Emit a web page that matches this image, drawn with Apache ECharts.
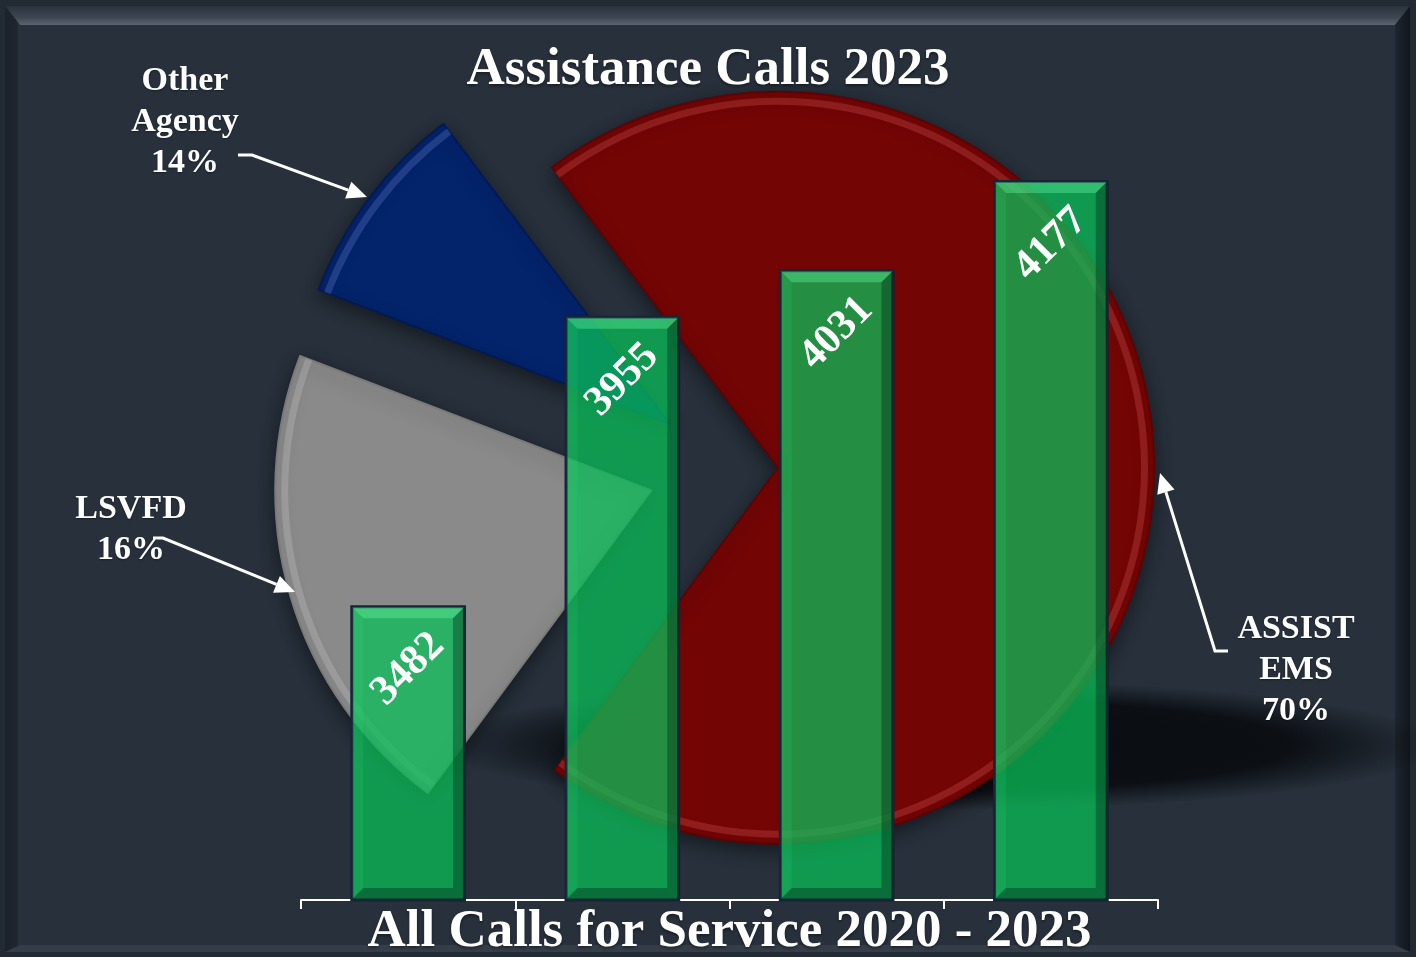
<!DOCTYPE html>
<html>
<head>
<meta charset="utf-8">
<title>Assistance Calls 2023</title>
<script src="https://cdn.jsdelivr.net/npm/echarts@6/dist/echarts.min.js"></script>
<style>
  html, body { margin: 0; padding: 0; background: #222a33; }
  #main { width: 1416px; height: 957px; }
</style>
</head>
<body>
<div id="main"></div>
<script>
// bars: all calls for service per year
var years = ['2020', '2021', '2022', '2023'];
var callTotals = [3482, 3955, 4031, 4177];

// pie: 2023 assistance calls (slice sizes as drawn, label text as printed)
var sliceNames = ['ASSIST EMS', 'LSVFD', 'Other Agency'];
var sliceValues = [70.4, 20.7, 8.9];
var sliceLabels = ['ASSIST\nEMS\n70%', 'LSVFD\n16%', 'Other\nAgency\n14%'];

var FONT = '"Liberation Serif", "DejaVu Serif", serif';
var sliceColors = ['#730505', '#8a8a8a', '#03236b'];
var sliceBorders = ['#5e0303', '#7a7a7a', '#021a55'];
var sliceShine = ['rgba(255,120,120,0.22)', 'rgba(255,255,255,0.16)', 'rgba(140,170,255,0.22)'];

// pie layout: common centre, each slice pushed out along its bisector
var pieCenter = [728, 468];
var pieRadius = 376;
var pieStart = 127;
var explode = [50, 80, 73];
var Y_MIN = 3000;

var total = sliceValues.reduce(function (s, v) { return s + v; }, 0);
var acc = 0;
var pieSeries = [];
sliceValues.forEach(function (v, i) {
  var mid = (pieStart - (acc + v / 2) / total * 360) * Math.PI / 180;
  acc += v;
  var cx = pieCenter[0] + explode[i] * Math.cos(mid);
  var cy = pieCenter[1] - explode[i] * Math.sin(mid);
  var common = {
    type: 'pie', silent: true, z: 2,
    center: [cx, cy], startAngle: pieStart, clockwise: true,
    label: { show: false }, labelLine: { show: false },
    emphasis: { disabled: true }
  };
  // the slice itself
  pieSeries.push(Object.assign({}, common, {
    name: sliceNames[i],
    radius: pieRadius,
    data: sliceValues.map(function (w, j) {
      return {
        name: sliceNames[j], value: w,
        itemStyle: j === i ? {
          color: sliceColors[j], borderColor: sliceBorders[j], borderWidth: 2,
          shadowBlur: 18, shadowColor: 'rgba(0,0,0,0.45)', shadowOffsetY: 6
        } : { color: 'rgba(0,0,0,0)', borderWidth: 0 }
      };
    })
  }));
  // bevel shine just inside the rim
  pieSeries.push(Object.assign({}, common, {
    name: sliceNames[i] + ' rim',
    radius: [pieRadius - 13, pieRadius - 6],
    data: sliceValues.map(function (w, j) {
      return { name: sliceNames[j], value: w,
        itemStyle: { color: j === i ? sliceShine[j] : 'rgba(0,0,0,0)', borderWidth: 0 } };
    })
  }));
});

// arrow annotation: polyline + head at the last point
function arrow(pts) {
  var a = pts[pts.length - 2], b = pts[pts.length - 1];
  var dx = b[0] - a[0], dy = b[1] - a[1], len = Math.sqrt(dx * dx + dy * dy);
  var ux = dx / len, uy = dy / len, L = 20, W = 9;
  var base = [b[0] - ux * L, b[1] - uy * L];
  return [
    { type: 'polyline', z: 20, shape: { points: pts.slice(0, -1).concat([base]) },
      style: { stroke: '#ffffff', lineWidth: 3, fill: null } },
    { type: 'polygon', z: 20,
      shape: { points: [b, [base[0] - uy * W, base[1] + ux * W], [base[0] + uy * W, base[1] - ux * W]] },
      style: { fill: '#ffffff' } }
  ];
}

function sliceText(text, x, y) {
  return {
    type: 'text', z: 20, x: x, y: y,
    style: {
      text: text, fill: '#ffffff', align: 'center', verticalAlign: 'middle',
      fontFamily: FONT, fontWeight: 'bold', fontSize: 34, lineHeight: 41,
      textShadowColor: 'rgba(0,0,0,0.4)', textShadowBlur: 2, textShadowOffsetY: 1
    }
  };
}

// bevelled frame
var frame = [
  { type: 'rect', z: 0, shape: { x: 20, y: 25, width: 1375, height: 920 }, style: { fill: '#27303b' } },
  { type: 'polygon', z: 0, shape: { points: [[5, 6], [1410, 6], [1395, 25], [20, 25]] },
    style: { fill: { type: 'linear', x: 0, y: 0, x2: 0, y2: 1, colorStops: [
      { offset: 0, color: '#2a323c' }, { offset: 0.6, color: '#3e4652' }, { offset: 1, color: '#5b6471' }] } } },
  { type: 'polygon', z: 0, shape: { points: [[5, 6], [20, 25], [20, 945], [5, 952]] },
    style: { fill: { type: 'linear', x: 0, y: 0, x2: 1, y2: 0, colorStops: [
      { offset: 0, color: '#1c222b' }, { offset: 0.75, color: '#1e252e' }, { offset: 1, color: '#2c343f' }] } } },
  { type: 'polygon', z: 0, shape: { points: [[1410, 6], [1410, 952], [1395, 945], [1395, 25]] },
    style: { fill: { type: 'linear', x: 0, y: 0, x2: 1, y2: 0, colorStops: [
      { offset: 0, color: '#1f262f' }, { offset: 1, color: '#12161c' }] } } },
  { type: 'polygon', z: 0, shape: { points: [[5, 952], [20, 945], [1395, 945], [1410, 952]] },
    style: { fill: '#353d48' } }
];

// squashed shadow cast by the pie
var pieShadow = {
  type: 'circle', z: 1, x: 940, y: 745, scaleX: 5.0, scaleY: 0.65,
  shape: { cx: 0, cy: 0, r: 100 },
  style: { fill: { type: 'radial', x: 0.5, y: 0.5, r: 0.5, colorStops: [
    { offset: 0, color: 'rgba(8,11,15,0.97)' },
    { offset: 0.7, color: 'rgba(8,11,15,0.88)' },
    { offset: 1, color: 'rgba(8,11,15,0)' }] } }
};

var BAR_WIDTH = 0.54;

// bevel faces drawn over each bar, placed through the axes
function barBevel(params, api) {
  var top = api.coord([api.value(0), api.value(1)]);
  var bottom = api.coord([api.value(0), Y_MIN]);
  var w = api.size([1, 0])[0] * BAR_WIDTH;
  var x0 = top[0] - w / 2 + 2, x1 = top[0] + w / 2 - 2, y0 = top[1] + 2, y1 = bottom[1] - 1;
  var b = 11;
  return {
    type: 'group',
    children: [
      { type: 'polygon', shape: { points: [[x0, y0], [x1, y0], [x1 - b, y0 + b], [x0 + b, y0 + b]] },
        style: { fill: 'rgba(110,255,170,0.35)' } },
      { type: 'polygon', shape: { points: [[x1, y0], [x1, y1], [x1 - b, y1 - b], [x1 - b, y0 + b]] },
        style: { fill: 'rgba(0,40,20,0.38)' } },
      { type: 'polygon', shape: { points: [[x0, y1], [x1, y1], [x1 - b, y1 - b], [x0 + b, y1 - b]] },
        style: { fill: 'rgba(0,45,25,0.4)' } },
      { type: 'polygon', shape: { points: [[x0, y0], [x0 + b, y0 + b], [x0 + b, y1 - b], [x0, y1]] },
        style: { fill: 'rgba(60,230,130,0.12)' } }
    ]
  };
}

var myChart = echarts.init(document.getElementById('main'));
myChart.setOption({
  backgroundColor: '#222a33',
  animation: false,
  title: {
    text: 'Assistance Calls 2023',
    left: 'center',
    top: 39,
    textStyle: {
      color: '#ffffff', fontFamily: FONT, fontWeight: 'bold', fontSize: 53,
      textShadowColor: 'rgba(0,0,0,0.4)', textShadowBlur: 3, textShadowOffsetY: 2
    }
  },
  grid: { left: 301, right: 258, top: 166, bottom: 57, outerBoundsMode: 'none', containLabel: false },
  xAxis: {
    type: 'category',
    data: years,
    name: 'All Calls for Service 2020 - 2023',
    nameLocation: 'middle',
    nameGap: 6,
    nameTextStyle: {
      color: '#ffffff', fontFamily: FONT, fontWeight: 'bold', fontSize: 53, lineHeight: 53,
      verticalAlign: 'top',
      textShadowColor: 'rgba(0,0,0,0.4)', textShadowBlur: 3, textShadowOffsetY: 2
    },
    axisLine: { lineStyle: { color: '#ffffff', width: 2 } },
    axisTick: { show: true, length: 9, lineStyle: { color: '#ffffff', width: 2 } },
    axisLabel: { show: false },
    splitLine: { show: false }
  },
  yAxis: { type: 'value', min: Y_MIN, max: 4200, show: false },
  graphic: frame.concat([pieShadow],
    arrow([[238, 155], [252, 155], [367, 197]]),
    arrow([[153, 538], [163, 538], [295, 592]]),
    arrow([[1228, 651], [1215, 651], [1160, 473]]),
    [sliceText(sliceLabels[2], 185, 122),
     sliceText(sliceLabels[1], 131, 530),
     sliceText(sliceLabels[0], 1296, 670)]),
  series: pieSeries.concat([{
    type: 'bar',
    name: 'All Calls',
    z: 5,
    silent: true,
    barWidth: (BAR_WIDTH * 100) + '%',
    data: callTotals,
    itemStyle: { color: 'rgba(9,189,88,0.75)', borderColor: '#142536', borderWidth: 3 },
    label: {
      show: true,
      position: ['50%', 64],
      rotate: 45,
      align: 'center',
      verticalAlign: 'middle',
      color: '#ffffff',
      fontFamily: FONT,
      fontWeight: 'bold',
      fontSize: 42
    }
  }, {
    type: 'custom',
    name: 'bar bevel',
    z: 6,
    silent: true,
    renderItem: barBevel,
    data: callTotals.map(function (v, i) { return [i, v]; })
  }])
});
</script>
</body>
</html>
